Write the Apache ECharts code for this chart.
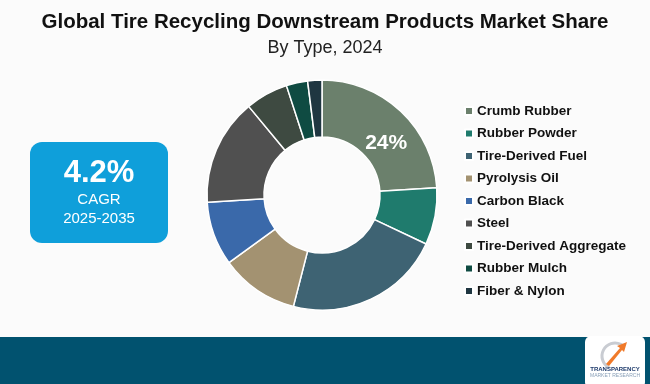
<!DOCTYPE html>
<html>
<head>
<meta charset="utf-8">
<style>
html,body{margin:0;padding:0;background:#fbfbfb;}
#chart{width:650px;height:384px;}
</style>
<script src="https://cdn.jsdelivr.net/npm/echarts@6/dist/echarts.min.js"></script>
</head>
<body>
<div id="chart"></div>
<script>
const categories = ["Crumb Rubber","Rubber Powder","Tire-Derived Fuel","Pyrolysis Oil","Carbon Black","Steel","Tire-Derived Aggregate","Rubber Mulch","Fiber & Nylon"];
const shares = [24, 8, 22, 11, 9, 15, 6, 3, 2];
const colors = ["#6b806c","#1f7b6d","#3e6373","#a39271","#3a69aa","#505050","#3e4a41","#0f4b42","#1f3641"];
const titleText = "Global Tire Recycling Downstream Products Market Share";
const subtitleText = "By Type, 2024";
const cagrValue = "4.2%";
const cagrLabel = "CAGR";
const cagrPeriod = "2025-2035";

const chart = echarts.init(document.getElementById('chart'), null, {renderer:'canvas'});
const data = categories.map((c,i)=>({name:c, value:shares[i], itemStyle:{color:colors[i]},
  label:{show:i===0}}));

chart.setOption({
  backgroundColor:'#fbfbfb',
  animation:false,
  title:[
    {text:titleText, left:'center', top:7, textStyle:{fontFamily:'Liberation Sans', fontWeight:'bold', fontSize:20.5, color:'#111'}},
    {text:subtitleText, left:'center', top:34, textStyle:{fontFamily:'Liberation Sans', fontWeight:'normal', fontSize:18, color:'#222'}}
  ],
  legend:{
    orient:'vertical', left:459, top:99,
    itemWidth:8, itemHeight:8, itemGap:8.5,
    icon:'rect',
    selectedMode:false,
    textStyle:{fontFamily:'Liberation Sans', fontWeight:'bold', fontSize:13.5, color:'#111', padding:[0,0,0,-1], lineHeight:14}
  },
  graphic:[
    {type:'rect', shape:{x:30, y:142, width:138, height:101, r:12}, style:{fill:'#0f9fda'}},
    {type:'text', style:{text:cagrValue, x:99, y:173, align:'center', verticalAlign:'middle', fill:'#fff', font:'bold 31px "Liberation Sans"'}},
    {type:'text', style:{text:cagrLabel, x:99, y:200, align:'center', verticalAlign:'middle', fill:'#fff', font:'15px "Liberation Sans"'}},
    {type:'text', style:{text:cagrPeriod, x:99, y:219, align:'center', verticalAlign:'middle', fill:'#fff', font:'15px "Liberation Sans"'}},
    {type:'rect', shape:{x:0, y:337, width:650, height:47}, style:{fill:'#01526f'}},
    {type:'rect', shape:{x:585, y:336, width:60, height:52, r:6}, style:{fill:'#ffffff'}},
    {type:'arc', shape:{cx:615, cy:356, r:13, startAngle:Math.PI*0.65, endAngle:Math.PI*1.75}, style:{stroke:'#c9ccd2', lineWidth:3, fill:null}},
    {type:'polygon', shape:{points:[[606,364],[620,348],[617,346],[627,342],[624,352],[622,350],[609,366]]}, style:{fill:'#f07a2a'}},
    {type:'text', style:{text:'TRANSPARENCY', x:615, y:369, align:'center', verticalAlign:'middle', fill:'#1d3a6b', font:'bold 6px "Liberation Sans"'}},
    {type:'text', style:{text:'MARKET RESEARCH', x:615, y:376, align:'center', verticalAlign:'middle', fill:'#8aa0b8', font:'5px "Liberation Sans"'}}
  ],
  series:[{
    type:'pie',
    center:[322,195],
    radius:[58,115],
    startAngle:90,
    clockwise:true,
    avoidLabelOverlap:false,
    itemStyle:{borderColor:'#ffffff', borderWidth:1.5},
    label:{position:'inside', formatter:p=>'\n '+p.value+'%', color:'#fff', fontFamily:'Liberation Sans', fontWeight:'bold', fontSize:21, lineHeight:26},
    labelLine:{show:false},
    emphasis:{disabled:true},
    data:data
  }]
});
</script>
</body>
</html>
